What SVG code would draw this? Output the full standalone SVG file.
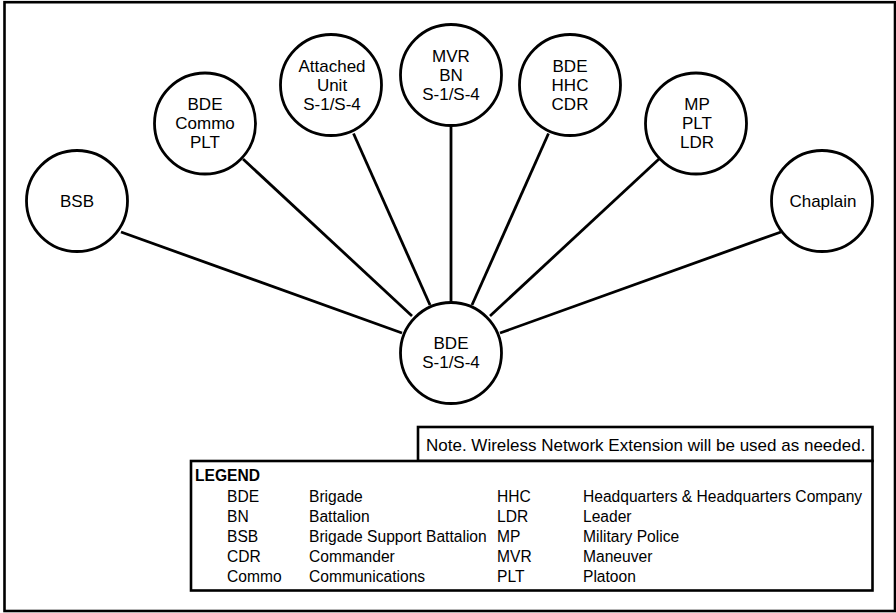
<svg xmlns="http://www.w3.org/2000/svg" width="896" height="613" viewBox="0 0 896 613">
<style>
  .node circle { fill: #ffffff; stroke: #000000; stroke-width: 2.8; }
  .node text { font-family: "Liberation Sans", Arial, sans-serif; font-size: 17px; text-anchor: middle; fill: #000000; }
  #connectors line { stroke: #000000; stroke-width: 2.8; }
  .box { fill: #ffffff; stroke: #000000; stroke-width: 2.6; }
  .lt { font-family: "Liberation Sans", Arial, sans-serif; font-size: 15.6px; fill: #000000; }
  .note { font-family: "Liberation Sans", Arial, sans-serif; font-size: 17px; fill: #000000; }
</style>
<rect x="0" y="0" width="896" height="613" fill="#ffffff"/>
<rect x="4.5" y="2.2" width="890.5" height="608.8" fill="none" stroke="#000000" stroke-width="2.6"/>

<g id="connectors">
  <line x1="121" y1="232" x2="402" y2="333"/>
  <line x1="243" y1="159" x2="412" y2="316"/>
  <line x1="353.5" y1="133.5" x2="430" y2="305"/>
  <line x1="451" y1="126" x2="451" y2="302"/>
  <line x1="548.5" y1="133.5" x2="472" y2="305"/>
  <line x1="659" y1="159" x2="490" y2="316"/>
  <line x1="781" y1="232" x2="500" y2="333"/>
</g>

<g id="node-bsb" class="node">
  <circle cx="77" cy="201" r="50.5"/>
  <text x="77" y="207">BSB</text>
</g>
<g id="node-commo" class="node">
  <circle cx="205" cy="123.5" r="50.5"/>
  <text x="205" y="110">BDE</text>
  <text x="205" y="129">Commo</text>
  <text x="205" y="148">PLT</text>
</g>
<g id="node-attached" class="node">
  <circle cx="331" cy="85" r="50.5"/>
  <text x="332" y="72">Attached</text>
  <text x="332" y="91">Unit</text>
  <text x="332" y="110">S-1/S-4</text>
</g>
<g id="node-mvr" class="node">
  <circle cx="451" cy="75" r="50.5"/>
  <text x="451" y="62">MVR</text>
  <text x="451" y="81">BN</text>
  <text x="451" y="100">S-1/S-4</text>
</g>
<g id="node-hhc" class="node">
  <circle cx="570" cy="85" r="50.5"/>
  <text x="570" y="72">BDE</text>
  <text x="570" y="91">HHC</text>
  <text x="570" y="110">CDR</text>
</g>
<g id="node-mp" class="node">
  <circle cx="696" cy="123.5" r="50.5"/>
  <text x="697" y="110">MP</text>
  <text x="697" y="129">PLT</text>
  <text x="697" y="148">LDR</text>
</g>
<g id="node-chaplain" class="node">
  <circle cx="822" cy="201" r="50.5"/>
  <text x="823" y="207">Chaplain</text>
</g>
<g id="node-center" class="node">
  <circle cx="451" cy="353" r="50.5"/>
  <text x="451" y="349">BDE</text>
  <text x="451" y="368">S-1/S-4</text>
</g>

<g id="note">
  <rect class="box" x="418" y="427" width="454.5" height="34"/>
  <text class="note" x="426" y="451">Note. Wireless Network Extension will be used as needed.</text>
</g>

<g id="legend">
  <rect class="box" x="191" y="461" width="681.5" height="129.5"/>
  <text class="lt" x="195" y="481" font-weight="bold">LEGEND</text>
  <text class="lt" x="227" y="502">BDE</text>
  <text class="lt" x="227" y="522">BN</text>
  <text class="lt" x="227" y="542">BSB</text>
  <text class="lt" x="227" y="562">CDR</text>
  <text class="lt" x="227" y="582">Commo</text>
  <text class="lt" x="309" y="502">Brigade</text>
  <text class="lt" x="309" y="522">Battalion</text>
  <text class="lt" x="309" y="542">Brigade Support Battalion</text>
  <text class="lt" x="309" y="562">Commander</text>
  <text class="lt" x="309" y="582">Communications</text>
  <text class="lt" x="497" y="502">HHC</text>
  <text class="lt" x="497" y="522">LDR</text>
  <text class="lt" x="497" y="542">MP</text>
  <text class="lt" x="497" y="562">MVR</text>
  <text class="lt" x="497" y="582">PLT</text>
  <text class="lt" x="583" y="502">Headquarters &amp; Headquarters Company</text>
  <text class="lt" x="583" y="522">Leader</text>
  <text class="lt" x="583" y="542">Military Police</text>
  <text class="lt" x="583" y="562">Maneuver</text>
  <text class="lt" x="583" y="582">Platoon</text>
</g>
</svg>
